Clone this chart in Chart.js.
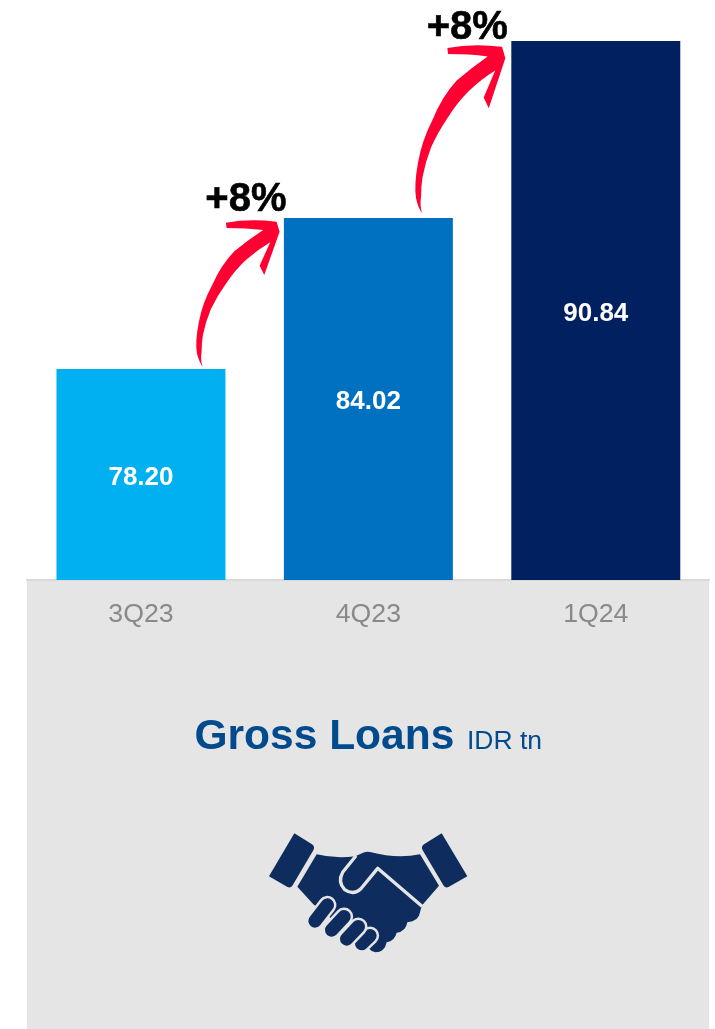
<!DOCTYPE html>
<html>
<head>
<meta charset="utf-8">
<style>
  html, body { margin: 0; padding: 0; background: #ffffff; }
  canvas { display: block; }
</style>
<script src="https://cdn.jsdelivr.net/npm/chart.js@4/dist/chart.umd.min.js"></script>
</head>
<body>
<canvas id="loans" width="715" height="1029"></canvas>
<script>
const categories = ["3Q23", "4Q23", "1Q24"];
const grossLoans = [78.20, 84.02, 90.84];
const barColors = ["#00B0F0", "#0070C0", "#002060"];
const growthLabels = [null, "+8%", "+8%"];
const axisMin = 70.07;
const axisMax = 92.42;

const FONT = '"Liberation Sans", Arial, sans-serif';
const RED = "#FF0033";
const NAVY = "#0E2C5E";
const PANEL = "#E5E5E5";

// Tapered curved arrow, in units of 1/3 px with the tip at the origin.
const arrowPath = new Path2D(
  "M0 0 L-9 -30 Q-90 -40 -161 -27 L-159 -11 Q-100 -11 -49 -5 " +
  "Q-95 25 -135 58 Q-176 100 -202 160 Q-232 215 -242 270 Q-254 330 -248 365 Q-242 390 -231 405 " +
  "Q-238 385 -234 360 Q-234 335 -230 310 Q-222 270 -206 232 Q-188 194 -160 155 Q-134 116 -102 86 Q-66 54 -28 32 " +
  "L-60 102 L-46 130 Z"
);

// Placement of each arrow against the top-left corner of the bar it points at.
const arrowPlacement = {
  1: { dx: -4.3, dy: 13.7, sx: 1, sy: 1, textDx: -38, textDy: -18 },
  2: { dx: -6, dy: 17.3, sx: 1.08, sy: 1.15, textDx: -44, textDy: -13 }
};

// Handshake icon, in units of 1/3 px.
const cuffLeft = new Path2D(
  "M133 55 L186 88 Q196 95 190 106 L127 212 Q121 221 111 215 L57 184 Z"
);
const cuffRight = new Path2D(
  "M575 55 L522 88 Q512 95 518 106 L581 212 Q587 221 597 215 L652 184 Z"
);
const handBody = new Path2D(
  "M200 118 Q255 132 316 124 L336 115 Q346 108 360 111 Q440 132 510 118 L567 212 L517 270 " +
  "Q512 280 510 292 Q506 320 472 322 Q468 350 440 353 Q434 378 410 382 Q404 412 376 412 " +
  "Q364 410 356 400 L190 268 L142 215 Z"
);
const thumbLine = new Path2D(
  "M318 122 L278 172 Q262 200 284 224 Q310 242 332 222 L383 160 L516 274"
);
const fingers = [
  [360, 362, 335, 386],
  [325, 335, 290, 372],
  [282, 305, 245, 345],
  [232, 270, 195, 318]
];

const decorations = {
  id: "decorations",
  beforeDraw(chart) {
    const { ctx, chartArea } = chart;
    const left = Math.round(chartArea.left);
    ctx.save();
    ctx.fillStyle = PANEL;
    ctx.fillRect(left, chartArea.bottom, Math.floor(chartArea.right) - left, chart.height - chartArea.bottom);
    ctx.restore();
  },
  afterDatasetsDraw(chart) {
    const { ctx, chartArea } = chart;
    const bars = chart.getDatasetMeta(0).data;
    ctx.save();

    // Values centred inside the bars
    ctx.textAlign = "center";
    ctx.textBaseline = "middle";
    ctx.fillStyle = "#FFFFFF";
    ctx.font = "bold 26px " + FONT;
    bars.forEach((bar, i) => {
      ctx.fillText(grossLoans[i].toFixed(2), bar.x, (bar.y + chartArea.bottom) / 2 + 3);
    });

    // Growth arrows and their labels
    bars.forEach((bar, i) => {
      if (!growthLabels[i]) return;
      const place = arrowPlacement[i];
      const left = bar.x - bar.width / 2;
      ctx.save();
      ctx.translate(left + place.dx, bar.y + place.dy);
      ctx.scale(place.sx / 3, place.sy / 3);
      ctx.fillStyle = RED;
      ctx.fill(arrowPath);
      ctx.restore();
      ctx.fillStyle = "#000000";
      ctx.strokeStyle = "#000000";
      ctx.lineWidth = 0.6;
      ctx.font = "bold 40px " + FONT;
      ctx.fillText(growthLabels[i], left + place.textDx, bar.y + place.textDy);
      ctx.strokeText(growthLabels[i], left + place.textDx, bar.y + place.textDy);
    });

    // Panel heading
    ctx.textAlign = "left";
    ctx.textBaseline = "alphabetic";
    ctx.fillStyle = "#004A8D";
    ctx.font = "bold 42.5px " + FONT;
    ctx.fillText("Gross Loans", 194.5, 749);
    ctx.font = "26.5px " + FONT;
    ctx.fillText("IDR tn", 467, 749);

    // Handshake icon
    ctx.translate(250, 815);
    ctx.scale(1 / 3, 1 / 3);
    ctx.fillStyle = NAVY;
    ctx.fill(cuffLeft);
    ctx.fill(cuffRight);
    ctx.fill(handBody);
    ctx.lineCap = "round";
    ctx.lineJoin = "round";
    fingers.forEach(([x1, y1, x2, y2]) => {
      ctx.beginPath();
      ctx.moveTo(x1, y1);
      ctx.lineTo(x2, y2);
      ctx.strokeStyle = PANEL;
      ctx.lineWidth = 55;
      ctx.stroke();
      ctx.strokeStyle = NAVY;
      ctx.lineWidth = 40;
      ctx.stroke();
    });
    ctx.strokeStyle = PANEL;
    ctx.lineWidth = 10;
    ctx.lineCap = "butt";
    ctx.stroke(thumbLine);
    ctx.restore();
  }
};

new Chart(document.getElementById("loans"), {
  type: "bar",
  data: {
    labels: categories,
    datasets: [{
      data: grossLoans,
      backgroundColor: barColors,
      borderWidth: 0,
      barPercentage: 0.743,
      categoryPercentage: 1
    }]
  },
  options: {
    responsive: false,
    animation: false,
    layout: { padding: { left: 27.25, right: 5.5, top: 0, bottom: 0 } },
    plugins: {
      legend: { display: false },
      tooltip: { enabled: false }
    },
    scales: {
      x: {
        grid: { display: false },
        border: { display: true, color: "#D9D9D9", width: 2 },
        ticks: {
          color: "#898989",
          padding: 11,
          maxRotation: 0,
          font: { family: FONT, size: 26.67 }
        },
        afterFit(scale) { scale.height = 449; }
      },
      y: {
        display: false,
        min: axisMin,
        max: axisMax
      }
    }
  },
  plugins: [decorations]
});
</script>
</body>
</html>
